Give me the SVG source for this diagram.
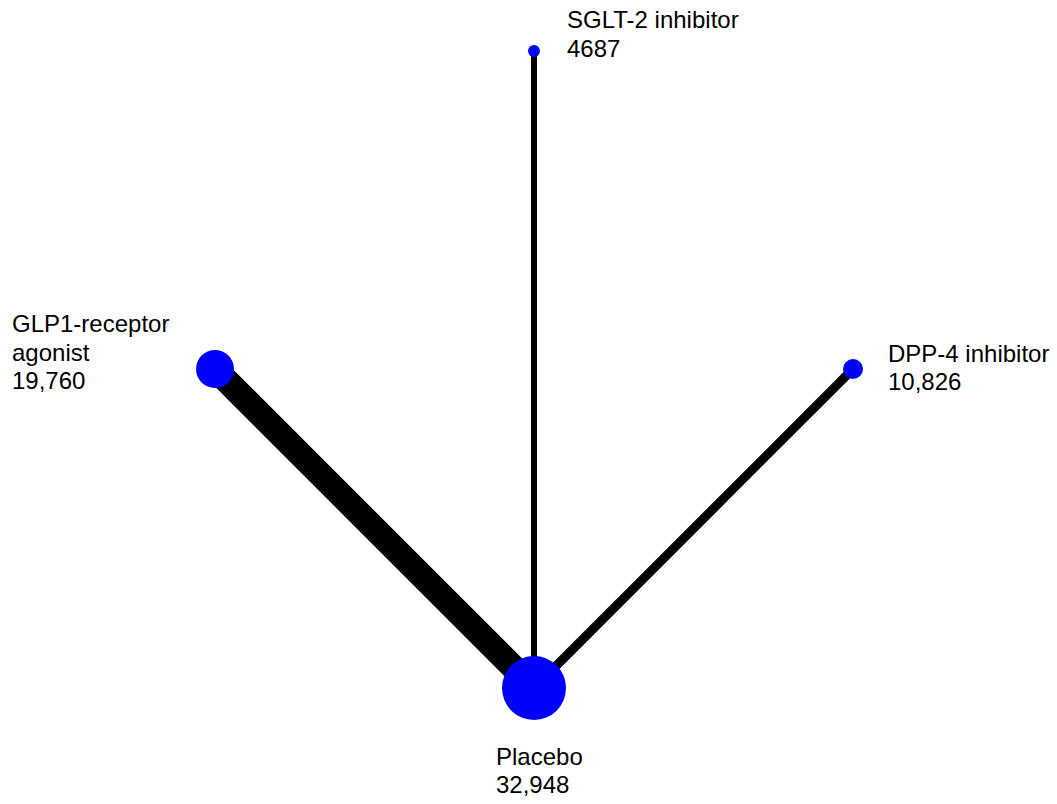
<svg xmlns="http://www.w3.org/2000/svg" width="1057" height="804" viewBox="0 0 1057 804">
  <style>
    .edge { stroke: #000; fill: none; }
    .node { fill: #0000ff; }
    .label { font-family: "Liberation Sans", Arial, sans-serif; font-size: 24px; fill: #000; }
  </style>
  <rect width="1057" height="804" fill="#fff"/>
  <!-- comparisons: stroke width scales with evidence -->
  <g id="edges">
    <line class="edge" x1="534" y1="688" x2="215" y2="369" stroke-width="25"/>
    <line class="edge" x1="534" y1="688" x2="853" y2="369" stroke-width="9"/>
    <line class="edge" x1="534" y1="688" x2="534" y2="51" stroke-width="6"/>
  </g>
  <g id="placebo">
    <circle class="node" cx="534" cy="688" r="32"/>
    <text class="label" x="496" y="765">Placebo</text>
    <text class="label" x="496" y="793">32,948</text>
  </g>
  <g id="glp1">
    <circle class="node" cx="215" cy="369" r="19"/>
    <text class="label" x="12" y="332">GLP1-receptor</text>
    <text class="label" x="12" y="361">agonist</text>
    <text class="label" x="12" y="389">19,760</text>
  </g>
  <g id="dpp4">
    <circle class="node" cx="853" cy="369" r="10"/>
    <text class="label" x="888" y="362">DPP-4 inhibitor</text>
    <text class="label" x="888" y="390">10,826</text>
  </g>
  <g id="sglt2">
    <circle class="node" cx="534" cy="51" r="6"/>
    <text class="label" x="567" y="28">SGLT-2 inhibitor</text>
    <text class="label" x="567" y="57">4687</text>
  </g>
</svg>
